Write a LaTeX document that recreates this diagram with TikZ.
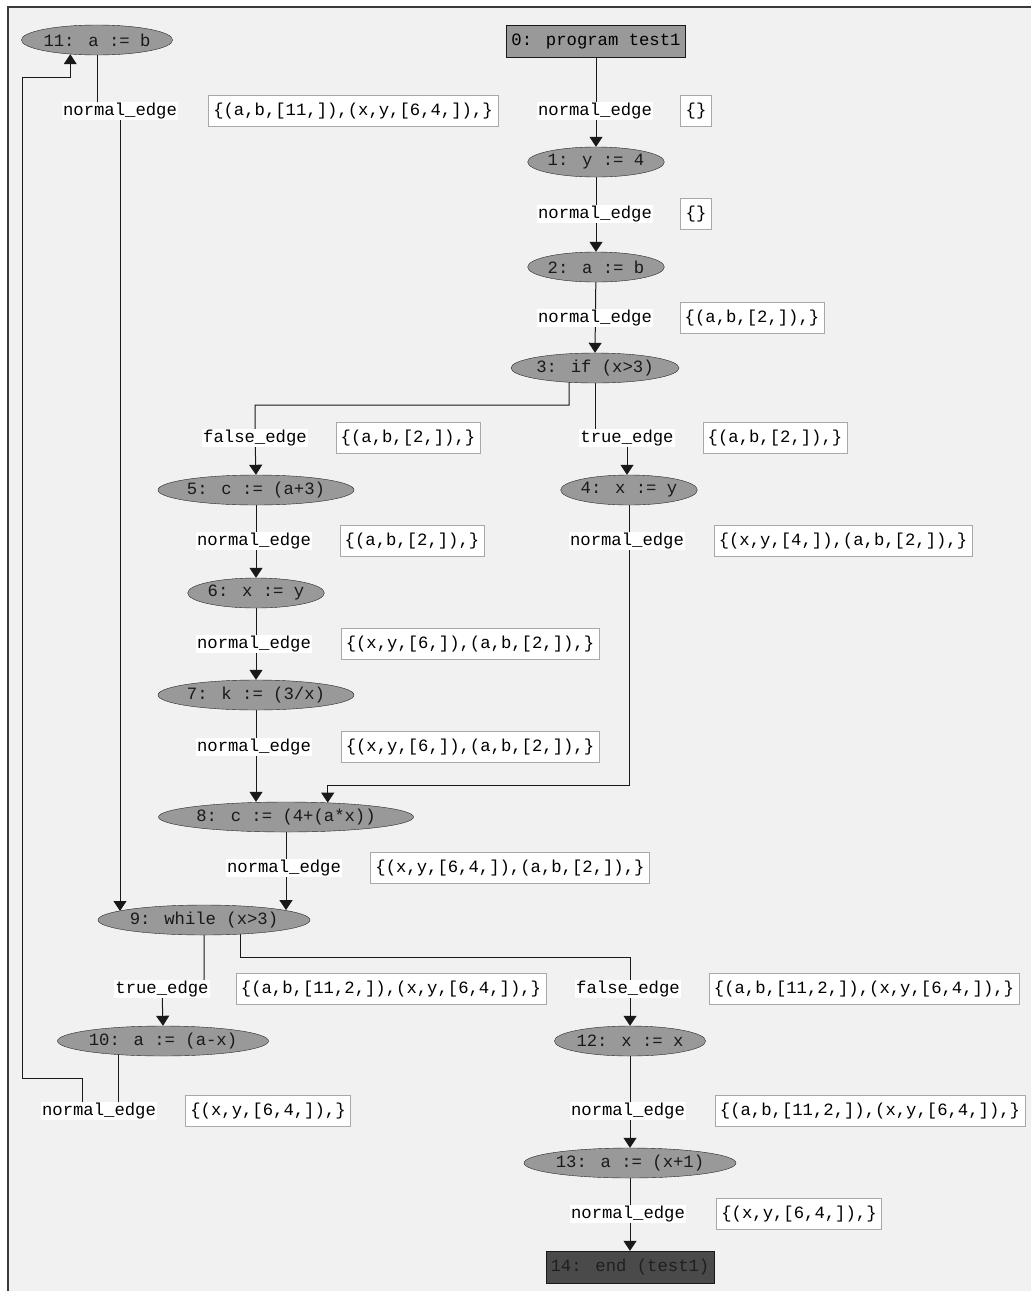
\documentclass[tikz,border=0pt]{standalone}
\usepackage{fontspec}
\newfontfamily\cfgmono{Liberation Mono}
\usetikzlibrary{shapes.geometric,arrows.meta,calc}
\pgfdeclarelayer{bg}
\pgfdeclarelayer{edges}
\pgfsetlayers{bg,edges,main}
\definecolor{canvas}{HTML}{F1F1F1}
\definecolor{nodegray}{HTML}{999999}
\definecolor{endgray}{HTML}{4A4A4A}
\definecolor{boxgray}{HTML}{A8A8A8}
\definecolor{framegray}{HTML}{3A3A3A}
\begin{document}
\begin{tikzpicture}[x=1pt,y=-1pt,
  txt/.style={font=\cfgmono\fontsize{17.25}{18}\selectfont},
  stmt/.style={txt, ellipse, draw=black!85, fill=nodegray, text=black!90, minimum height=30, inner sep=0},
  term/.style={txt, rectangle, draw=black!90, minimum height=32, inner sep=0, text height=12, text depth=4},
  elabel/.style={txt, fill=white, inner xsep=1, inner ysep=1, text height=12, text depth=4},
  info/.style={txt, draw=boxgray, fill=white, minimum height=31, inner xsep=5, inner ysep=0, text height=12, text depth=4},
  flow/.style={draw=black!90, line width=1pt, -{Triangle[width=13pt,length=10pt]}}
]
\useasboundingbox (0,0) rectangle (1031,1291);
\begin{pgfonlayer}{bg}
  \fill[white] (0,0) rectangle (1031,1291);
  \fill[canvas] (8,7) rectangle (1031,1291);
  \draw[framegray, line width=2pt] (8,1291) -- (8,7) -- (1031,7);
\end{pgfonlayer}

% statement nodes
\node[term, fill=nodegray, minimum width=179] (n0) at (596,41) {0: program test1};
\node[stmt, minimum width=136] (n1) at (596,162) {1: y := 4};
\node[stmt, minimum width=136] (n2) at (596,267) {2: a := b};
\node[stmt, minimum width=168] (n3) at (595,368) {3: if (x>3)};
\node[stmt, minimum width=135] (n4) at (629,490) {4: x := y};
\node[stmt, minimum width=196] (n5) at (256,490) {5: c := (a+3)};
\node[stmt, minimum width=136] (n6) at (256,593) {6: x := y};
\node[stmt, minimum width=196] (n7) at (256,695) {7: k := (3/x)};
\node[stmt, minimum width=255] (n8) at (286,817) {8: c := (4+(a*x))};
\node[stmt, minimum width=212] (n9) at (204,920) {9: while (x>3)};
\node[stmt, minimum width=211] (n10) at (163,1041) {10: a := (a-x)};
\node[stmt, minimum width=151] (n11) at (97,40) {11: a := b};
\node[stmt, minimum width=150] (n12) at (630,1041) {12: x := x};
\node[stmt, minimum width=212] (n13) at (630,1163) {13: a := (x+1)};
\node[term, fill=endgray, text=black!88, minimum width=168] (n14) at (630,1267) {14: end (test1)};

% edge labels
\node[elabel] (e01) at (595,111) {normal\_edge};
\node[elabel] (e12) at (595,214) {normal\_edge};
\node[elabel] (e23) at (595,318) {normal\_edge};
\node[elabel] (f35) at (255,438) {false\_edge};
\node[elabel] (t34) at (627,438) {true\_edge};
\node[elabel] (e48) at (627,541) {normal\_edge};
\node[elabel] (e56) at (254,541) {normal\_edge};
\node[elabel] (e67) at (254,644) {normal\_edge};
\node[elabel] (e78) at (254,747) {normal\_edge};
\node[elabel] (e89) at (284,868) {normal\_edge};
\node[elabel] (e119) at (120,111) {normal\_edge};
\node[elabel] (t910) at (162,989) {true\_edge};
\node[elabel] (f912) at (628,989) {false\_edge};
\node[elabel] (e1011) at (99,1111) {normal\_edge};
\node[elabel] (e1213) at (628,1111) {normal\_edge};
\node[elabel] (e1314) at (628,1214) {normal\_edge};

% info boxes
\node[info] (b01) at (696,111) {\{\}};
\node[info] (b12) at (696,214) {\{\}};
\node[info] (b23) at (752,318) {\{(a,b,[2,]),\}};
\node[info] (b35) at (408,438) {\{(a,b,[2,]),\}};
\node[info] (b34) at (775,438) {\{(a,b,[2,]),\}};
\node[info] (b48) at (843,541) {\{(x,y,[4,]),(a,b,[2,]),\}};
\node[info] (b56) at (412,541) {\{(a,b,[2,]),\}};
\node[info] (b67) at (470,644) {\{(x,y,[6,]),(a,b,[2,]),\}};
\node[info] (b78) at (470,747) {\{(x,y,[6,]),(a,b,[2,]),\}};
\node[info] (b89) at (510,868) {\{(x,y,[6,4,]),(a,b,[2,]),\}};
\node[info] (b119) at (353,111) {\{(a,b,[11,]),(x,y,[6,4,]),\}};
\node[info] (b910) at (391,989) {\{(a,b,[11,2,]),(x,y,[6,4,]),\}};
\node[info] (b912) at (864,989) {\{(a,b,[11,2,]),(x,y,[6,4,]),\}};
\node[info] (b1011) at (268,1111) {\{(x,y,[6,4,]),\}};
\node[info] (b1213) at (870,1111) {\{(a,b,[11,2,]),(x,y,[6,4,]),\}};
\node[info] (b1314) at (799,1214) {\{(x,y,[6,4,]),\}};

% waypoints
\coordinate (k35) at (569,405);
\coordinate (k48) at (629,785);
\coordinate (k912) at (630,957);
\coordinate (w1) at (82,1078);
\coordinate (w2) at (22,1078);
\coordinate (w3) at (22,77);

\begin{pgfonlayer}{edges}
  \draw[flow] (n0) -- (n1.north);
  \draw[flow] (n1) -- (n2.north);
  \draw[flow] (n2) -- (n3.north);
  \draw[flow] ($(n3)+(-26,0)$) -- (k35) -| (f35.center) -- (n5.north);
  \draw[flow] (n3) |- (t34.center) -- (t34 |- n4.north);
  \draw[flow] (n5) -- (n6.north);
  \draw[flow] (n6) -- (n7.north);
  \draw[flow] (n7) -- (n7 |- n8.north);
  \draw[flow] (n4) -- (k48) -| (n8.19);
  \draw[flow] (n8) -- (n8 |- n9.7);
  \draw[flow] (n11) |- (e119.center) -- (e119 |- n9.174);
  \draw[flow] (n9) |- (t910.center) -- (n10.north);
  \draw[flow] ($(n9)+(36,0)$) |- (k912) -- (n12.north);
  \draw[flow] ($(n10)+(-45,0)$) |- (e1011.center) -| (w1) -- (w2) -- (w3) -| (n11.208);
  \draw[flow] (n12) -- (n13.north);
  \draw[flow] (n13) -- (n14.north);
\end{pgfonlayer}
\end{tikzpicture}
\end{document}
